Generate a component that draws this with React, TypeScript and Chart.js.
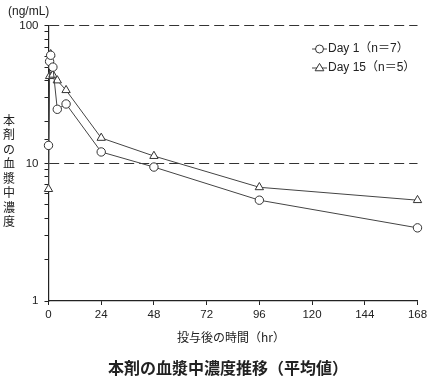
import React, { useEffect, useRef } from 'react';
import { Chart, registerables } from 'chart.js';

Chart.register(...registerables);

// ---- data ----
const day1Hours = [0, 0.5, 1, 2, 4, 8, 24, 48, 96, 168];
const day1Values = [13.5, 55, 61, 50, 24.7, 27, 12.1, 9.4, 5.4, 3.4];
const day15Hours = [0, 0.5, 1, 2, 4, 8, 24, 48, 96, 168];
const day15Values = [6.5, 43, 62, 44, 40, 34, 15.3, 11.3, 6.7, 5.4];
const seriesLabels = ['Day 1（n＝7）', 'Day 15（n＝5）'];
const xTickValues = [0, 24, 48, 72, 96, 120, 144, 168];
const yMajorTicks = [1, 10, 100];
const yUnit = '(ng/mL)';
const yTitle = '本剤の血漿中濃度';
const xTitle = '投与後の時間（hr）';
const chartTitle = '本剤の血漿中濃度推移（平均値）';

const LATIN = '"Liberation Sans", Arial, "Noto Sans CJK JP", sans-serif';
const CJK = '"Noto Sans CJK JP", "Liberation Sans", sans-serif';
const INK = '#222';
const LINE = '#444';

const textPlugin = {
  id: 'texts',
  afterDraw(chart: any) {
    const ctx = chart.ctx as CanvasRenderingContext2D;
    const area = chart.chartArea;
    ctx.save();
    ctx.fillStyle = INK;
    // unit
    ctx.font = `12px ${LATIN}`;
    ctx.textAlign = 'left';
    ctx.textBaseline = 'middle';
    ctx.fillText(yUnit, 8, 12);
    // y title stacked
    ctx.font = `12px ${CJK}`;
    ctx.textAlign = 'center';
    const chars = Array.from(yTitle);
    chars.forEach((c, i) => ctx.fillText(c, 9, 120 + i * 14.5));
    // x title
    ctx.font = `12px ${CJK}`;
    ctx.fillText(xTitle, 231, 337);
    // main title
    ctx.font = `bold 16px ${CJK}`;
    ctx.fillText(chartTitle, 228, 368);

    // legend
    const styles = ['circle', 'triangle'];
    const rows = [49, 68];
    rows.forEach((y, i) => {
      const x0 = 312;
      ctx.strokeStyle = LINE;
      ctx.lineWidth = 1;
      ctx.beginPath();
      ctx.moveTo(x0, y);
      ctx.lineTo(x0 + 15, y);
      ctx.stroke();
      ctx.fillStyle = '#fff';
      ctx.strokeStyle = '#333';
      ctx.beginPath();
      if (styles[i] === 'circle') {
        ctx.arc(x0 + 7.5, y, 4, 0, Math.PI * 2);
      } else {
        const r = 4.6;
        ctx.moveTo(x0 + 7.5, y - r);
        ctx.lineTo(x0 + 7.5 + r * 0.95, y + r * 0.6);
        ctx.lineTo(x0 + 7.5 - r * 0.95, y + r * 0.6);
        ctx.closePath();
      }
      ctx.fill();
      ctx.stroke();
      ctx.fillStyle = INK;
      ctx.font = `12px ${LATIN}`;
      ctx.textAlign = 'left';
      ctx.fillText(seriesLabels[i], x0 + 16, y);
    });
    ctx.restore();
  },
};

export default function App() {
  const ref = useRef<HTMLCanvasElement | null>(null);
  useEffect(() => {
    if (!ref.current) return;
    const mk = (xs: number[], ys: number[]) => xs.map((x, i) => ({ x, y: ys[i] }));
    const chart = new Chart(ref.current, {
      type: 'line',
      data: {
        datasets: [
          {
            label: seriesLabels[0],
            data: mk(day1Hours, day1Values),
            borderColor: LINE,
            borderWidth: 1,
            pointStyle: 'circle',
            pointRadius: 4.2,
            pointBackgroundColor: '#fff',
            pointBorderColor: '#333',
            pointBorderWidth: 1,
            tension: 0,
            clip: false as any,
          },
          {
            label: seriesLabels[1],
            data: mk(day15Hours, day15Values),
            borderColor: LINE,
            borderWidth: 1,
            pointStyle: 'triangle',
            pointRadius: 4.8,
            pointBackgroundColor: '#fff',
            pointBorderColor: '#333',
            pointBorderWidth: 1,
            tension: 0,
            clip: false as any,
          },
        ],
      },
      options: {
        animation: false,
        responsive: false,
        layout: { padding: { left: 0, top: 25.7, right: 20.5, bottom: 0 } },
        plugins: { legend: { display: false }, tooltip: { enabled: false }, title: { display: false } },
        scales: {
          x: {
            type: 'linear',
            min: 0,
            max: 168,
            afterBuildTicks: (scale: any) => {
              scale.ticks = xTickValues.map((v) => ({ value: v }));
            },
            afterFit: (scale: any) => {
              scale.height = 80;
            },
            ticks: {
              autoSkip: false,
              maxRotation: 0,
              color: INK,
              font: { family: LATIN, size: 11.5 },
              padding: 3,
            },
            grid: { drawOnChartArea: false, drawTicks: true, tickLength: 4, tickColor: INK },
            border: { color: INK, width: 1.2 },
          },
          y: {
            type: 'logarithmic',
            min: 1,
            max: 100,
            afterFit: (scale: any) => {
              scale.width = 48.5;
            },
            ticks: {
              autoSkip: false,
              color: INK,
              font: { family: LATIN, size: 11.5 },
              padding: 6,
              callback: (v: any) => (yMajorTicks.includes(Number(v)) ? String(v) : ''),
            },
            grid: {
              drawOnChartArea: true,
              drawTicks: true,
              tickLength: 4,
              tickColor: INK,
              lineWidth: 1,
              color: (c: any) => {
                const v = c.tick && c.tick.value;
                return v === 10 || v === 100 ? '#333' : 'rgba(0,0,0,0)';
              },
            },
            border: { color: INK, width: 1.2, dash: [10, 5] },
          },
        },
      },
      plugins: [textPlugin],
    });
    return () => chart.destroy();
  }, []);
  return (
    <div style={{ position: 'absolute', left: 0, top: 0, width: 438, height: 381, background: '#fff' }}>
      <canvas ref={ref} width={438} height={381} style={{ width: 438, height: 381, display: 'block' }} />
    </div>
  );
}
